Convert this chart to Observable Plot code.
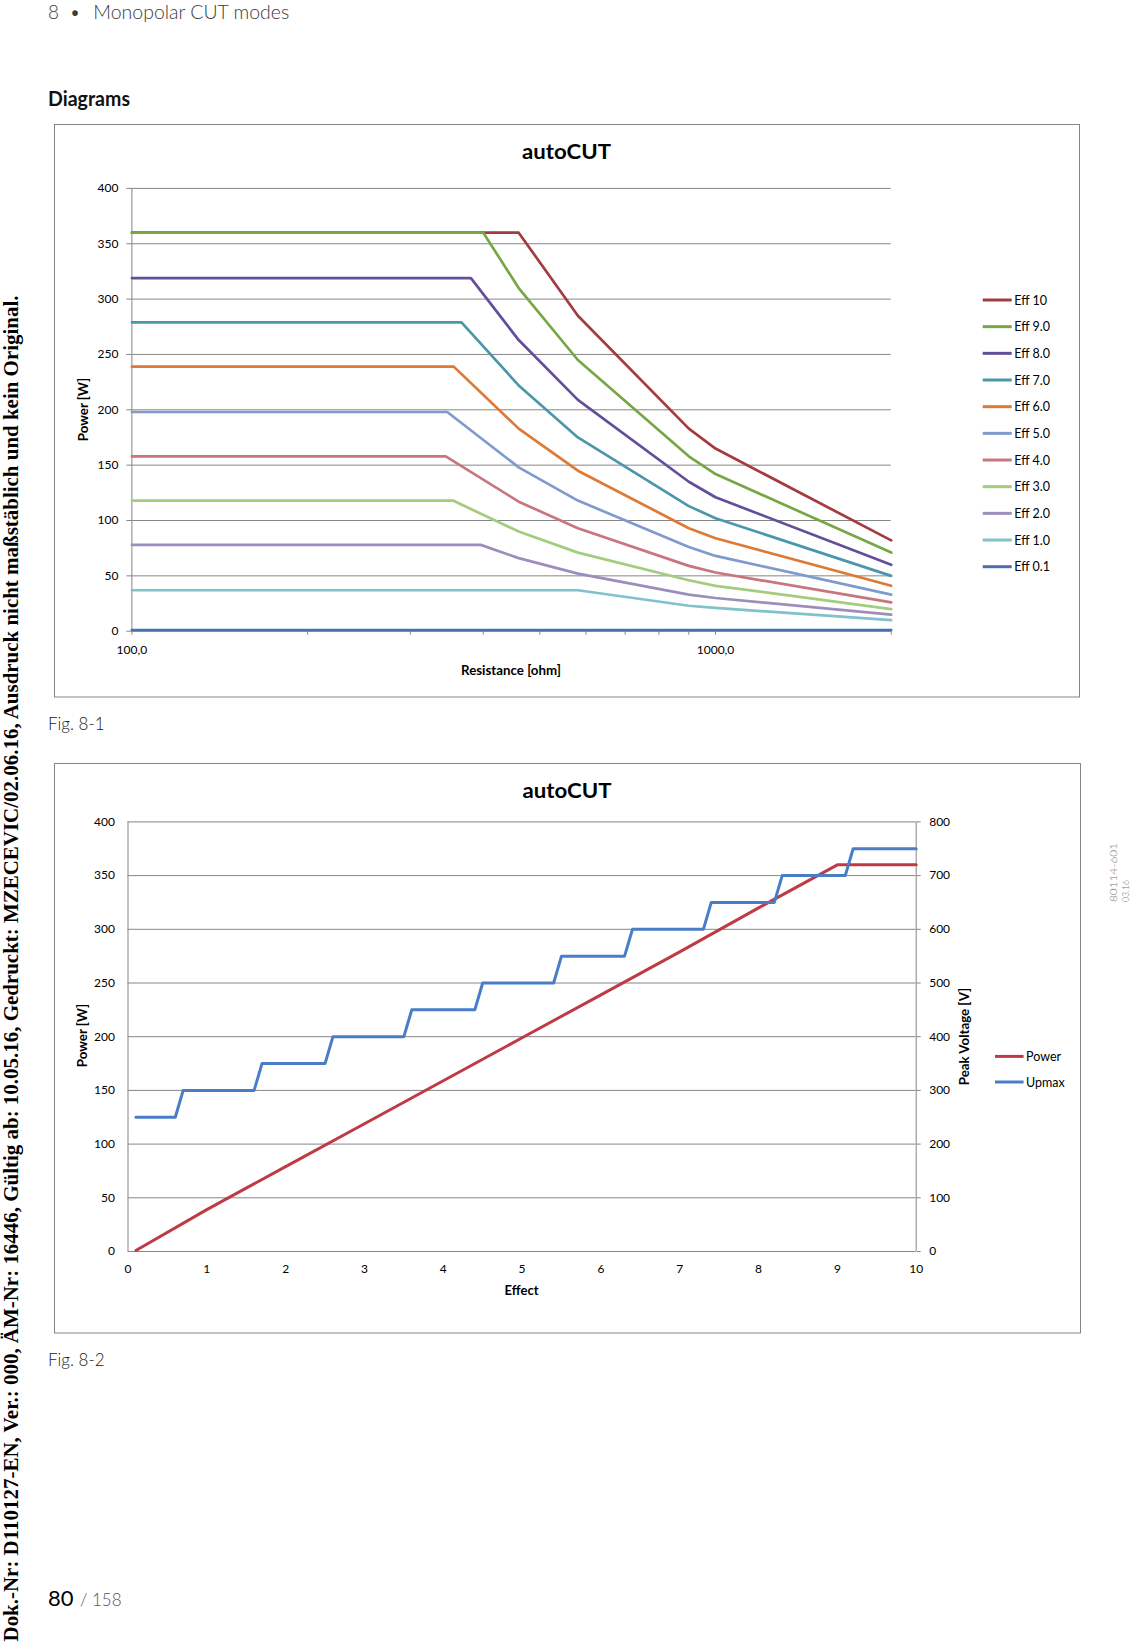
<!DOCTYPE html>
<html><head><meta charset="utf-8">
<script src="https://cdn.jsdelivr.net/npm/d3@7"></script>
<script src="https://cdn.jsdelivr.net/npm/@observablehq/plot@0.6"></script>
<style>
html,body{margin:0;padding:0;background:#fff;}
body{width:1134px;height:1643px;position:relative;overflow:hidden;font-family:Lato,"Open Sans",sans-serif;}
#page{position:absolute;left:0;top:0;}
#chart1,#chart2{position:absolute;}
#chart1{left:54px;top:125px;}
#chart2{left:54px;top:763px;}
</style></head><body>
<svg id="page" width="1134" height="1643" font-family="Lato, 'Open Sans', sans-serif">
  <text x="48" y="19" font-size="19" font-weight="300" fill="#3a3a3a">8</text>
  <text x="75" y="19" font-size="19" font-weight="300" fill="#3a3a3a" text-anchor="middle">•</text>
  <text x="93.3" y="19" font-size="19" font-weight="300" fill="#3a3a3a" textLength="196" lengthAdjust="spacingAndGlyphs">Monopolar CUT modes</text>
  <text x="48" y="106" font-size="20" font-weight="bold" fill="#111" textLength="82" lengthAdjust="spacingAndGlyphs">Diagrams</text>

  <rect x="54.5" y="124.5" width="1025" height="572.5" fill="none" stroke="#858585" stroke-width="1"/>
  <rect x="54.5" y="763.5" width="1026" height="569.5" fill="none" stroke="#858585" stroke-width="1"/>

  <text x="566.5" y="159.3" font-size="21" font-weight="bold" text-anchor="middle" fill="#000" textLength="89" lengthAdjust="spacingAndGlyphs">autoCUT</text>
  <text x="567" y="797.5" font-size="21" font-weight="bold" text-anchor="middle" fill="#000" textLength="89" lengthAdjust="spacingAndGlyphs">autoCUT</text>

  <text transform="translate(87.5,409.5) rotate(-90)" font-size="13.3" font-weight="bold" text-anchor="middle" fill="#000">Power [W]</text>
  <text x="511" y="675" font-size="13.3" font-weight="bold" text-anchor="middle" fill="#000">Resistance [ohm]</text>
  <text transform="translate(86.5,1035.5) rotate(-90)" font-size="13.3" font-weight="bold" text-anchor="middle" fill="#000">Power [W]</text>
  <text x="521.6" y="1295" font-size="13" font-weight="bold" text-anchor="middle" fill="#000">Effect</text>
  <text transform="translate(968.5,1036.5) rotate(-90)" font-size="13.3" font-weight="bold" text-anchor="middle" fill="#000">Peak Voltage [V]</text>

  <g id="legend1"></g>
  <g id="legend2"></g>

  <text x="48" y="730" font-size="17" font-weight="300" fill="#222">Fig. 8-1</text>
  <text x="48" y="1366" font-size="17" font-weight="300" fill="#222">Fig. 8-2</text>

  <text x="48" y="1606" font-size="22" fill="#000">80</text>
  <text x="80" y="1606" font-size="17" font-weight="300" fill="#555">/ 158</text>

  <text transform="translate(18.3,1641.5) rotate(-90)" font-family="'Liberation Serif', 'Times New Roman', serif" font-weight="bold" font-size="21.5" fill="#000" textLength="1346" lengthAdjust="spacingAndGlyphs">Dok.-Nr: D110127-EN, Ver.: 000, ÄM-Nr: 16446, Gültig ab: 10.05.16, Gedruckt: MZECEVIC/02.06.16, Ausdruck nicht maßstäblich und kein Original.</text>

  <text transform="translate(1117,902) rotate(-90)" font-size="10" font-weight="300" fill="#777" textLength="59" lengthAdjust="spacingAndGlyphs">80114-601</text>
  <text transform="translate(1128.5,902) rotate(-90)" font-size="10" font-weight="300" fill="#777" textLength="22" lengthAdjust="spacingAndGlyphs">03.16</text>
</svg>
<div id="chart1"></div>
<div id="chart2"></div>
<script>
// ---------- Fig. 8-1 : power vs resistance ----------
const effNames = ["Eff 10", "Eff 9.0", "Eff 8.0", "Eff 7.0", "Eff 6.0", "Eff 5.0", "Eff 4.0", "Eff 3.0", "Eff 2.0", "Eff 1.0", "Eff 0.1"];
const effColors = ["#A33B3F", "#77A745", "#634E9B", "#4A97AB", "#DD7A35", "#7F9ACC", "#C8757E", "#A3CC7E", "#9D8DBD", "#7FC1CC", "#4A70AE"];

// [resistance ohm, power W]
const eff10 = [[100, 360], [460, 360], [581, 285], [900, 183], [1000, 165], [2000, 82]];
const eff9  = [[100, 360], [400, 360], [460, 310], [581, 245], [900, 158], [1000, 142], [2000, 71]];
const eff8  = [[100, 319], [381, 319], [460, 263], [581, 209], [900, 135], [1000, 121], [2000, 60]];
const eff7  = [[100, 279], [367, 279], [460, 222], [581, 175], [900, 113], [1000, 102], [2000, 50]];
const eff6  = [[100, 239], [356, 239], [460, 183], [581, 145], [900, 93], [1000, 84], [2000, 41]];
const eff5  = [[100, 198], [347, 198], [460, 148], [581, 118], [900, 76], [1000, 68], [2000, 33]];
const eff4  = [[100, 158], [345, 158], [460, 117], [581, 93], [900, 59], [1000, 53], [2000, 26]];
const eff3  = [[100, 118], [355, 118], [460, 90], [581, 71], [900, 46], [1000, 41], [2000, 20]];
const eff2  = [[100, 78], [396, 78], [460, 66], [581, 52], [900, 33], [1000, 30], [2000, 15]];
const eff1  = [[100, 37], [581, 37], [900, 23], [1000, 21], [2000, 10]];
const eff01 = [[100, 1], [2000, 1]];
const effSeries = [eff10, eff9, eff8, eff7, eff6, eff5, eff4, eff3, eff2, eff1, eff01];

const resistanceDomain = [100, 2000];
const resistanceLabelTicks = [100, 1000];
const resistanceMinorTicks = [100, 200, 300, 400, 500, 600, 700, 800, 900, 1000, 2000];
const powerTicks = [0, 50, 100, 150, 200, 250, 300, 350, 400];

// ---------- Fig. 8-2 : power and peak voltage vs effect ----------
const effectDomain = [0, 10];
const effectTicks = [0, 1, 2, 3, 4, 5, 6, 7, 8, 9, 10];
const powerEffect = [0.1, 1, 2, 3, 4, 5, 6, 7, 8, 9, 10];
const powerValues = [1, 39, 79, 119, 159, 199, 239, 279, 320, 360, 360];
const upmaxEffect = [0.1, 0.6, 0.7, 1.6, 1.7, 2.5, 2.6, 3.5, 3.6, 4.4, 4.5, 5.4, 5.5, 6.3, 6.4, 7.3, 7.4, 8.2, 8.3, 9.1, 9.2, 10];
const upmaxValues = [250, 250, 300, 300, 350, 350, 400, 400, 450, 450, 500, 500, 550, 550, 600, 600, 650, 650, 700, 700, 750, 750];
const voltageTicks = [0, 100, 200, 300, 400, 500, 600, 700, 800];
const series2Names = ["Power", "Upmax"];
const series2Colors = ["#BE3B45", "#4A7DC8"];

const gridColor = "#868686";
const chartStyle = {background: "transparent", fontFamily: "Lato, 'Open Sans', sans-serif", fontSize: "12px", color: "#000", overflow: "visible"};

const rows1 = effSeries.flatMap((pts, i) => pts.map(([r, p]) => ({series: effNames[i], r, p})));

const chart1 = Plot.plot({
  width: 1025, height: 572,
  marginLeft: 77.4, marginRight: 188.3, marginTop: 62.9, marginBottom: 66.3,
  style: chartStyle,
  x: {type: "log", domain: resistanceDomain},
  y: {domain: [powerTicks[0], powerTicks[powerTicks.length - 1]]},
  color: {domain: effNames, range: effColors},
  marks: [
    Plot.gridY(powerTicks, {stroke: gridColor, strokeOpacity: 1}),
    Plot.ruleX([resistanceDomain[0]], {stroke: gridColor}),
    Plot.axisY(powerTicks, {tickSize: 5, tickPadding: 8.5, stroke: gridColor, fill: "#000", label: null}),
    Plot.axisX(resistanceMinorTicks, {tickSize: 4, tickFormat: () => "", stroke: gridColor, label: null}),
    Plot.axisX(resistanceLabelTicks, {tickSize: 0, tickPadding: 14, fill: "#000", tickFormat: d => d.toFixed(1).replace(".", ","), label: null}),
    Plot.line(rows1, {x: "r", y: "p", z: "series", stroke: "series", strokeWidth: 2.7})
  ]
});
document.getElementById("chart1").append(chart1);

const powerRows = powerEffect.map((e, i) => ({e, v: powerValues[i]}));
const upmaxRows = upmaxEffect.map((e, i) => ({e, v: upmaxValues[i]}));

const chart2 = Plot.plot({
  width: 1026, height: 570,
  marginLeft: 73.5, marginRight: 164.3, marginTop: 58.4, marginBottom: 82,
  style: chartStyle,
  x: {domain: effectDomain},
  y: {domain: [powerTicks[0], powerTicks[powerTicks.length - 1]]},
  marks: [
    Plot.gridY(powerTicks, {stroke: gridColor, strokeOpacity: 1}),
    Plot.ruleX(effectDomain, {stroke: gridColor}),
    Plot.axisY(powerTicks, {tickSize: 0, tickPadding: 13, fill: "#000", label: null}),
    Plot.axisY(voltageTicks.map(v => v / 2), {anchor: "right", tickSize: 4, tickPadding: 9, stroke: gridColor, fill: "#000", tickFormat: d => String(d * 2), label: null}),
    Plot.axisX(effectTicks, {tickSize: 0, tickPadding: 12.6, fill: "#000", label: null}),
    Plot.line(powerRows, {x: "e", y: "v", stroke: series2Colors[0], strokeWidth: 3}),
    Plot.line(upmaxRows, {x: "e", y: d => d.v / 2, stroke: series2Colors[1], strokeWidth: 3})
  ]
});
document.getElementById("chart2").append(chart2);

// legends
const lg1 = d3.select("#legend1");
effNames.forEach((name, i) => {
  const cy = 300 + i * 26.67;
  lg1.append("line").attr("x1", 982.7).attr("x2", 1011.7).attr("y1", cy).attr("y2", cy)
    .attr("stroke", effColors[i]).attr("stroke-width", 3);
  lg1.append("text").attr("x", 1014.3).attr("y", cy + 4.6).attr("font-size", 12.5).attr("fill", "#000").text(name);
});
const lg2 = d3.select("#legend2");
series2Names.forEach((name, i) => {
  const cy = [1056.4, 1082][i];
  lg2.append("line").attr("x1", 995).attr("x2", 1023.6).attr("y1", cy).attr("y2", cy)
    .attr("stroke", series2Colors[i]).attr("stroke-width", 3);
  lg2.append("text").attr("x", 1026).attr("y", cy + 4.6).attr("font-size", 12.5).attr("fill", "#000").text(name);
});
</script>
</body></html>
